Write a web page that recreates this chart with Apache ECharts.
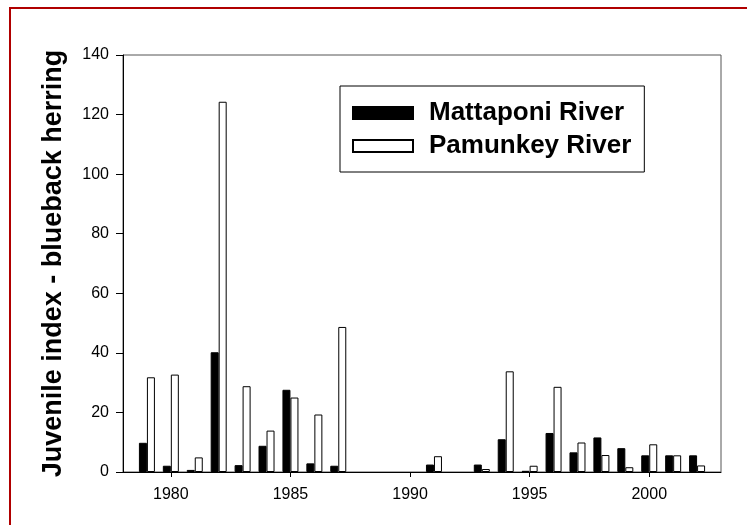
<!DOCTYPE html>
<html>
<head>
<meta charset="utf-8">
<script src="https://cdn.jsdelivr.net/npm/echarts@6/dist/echarts.min.js"></script>
<style>
  html, body { margin: 0; padding: 0; background: #fff; }
  #chart { width: 747px; height: 525px; }
</style>
</head>
<body>
<div id="chart"></div>
<script>
// years on the axis, 1978 and 2003 are just the axis ends
var years = ['1978', '1979', '1980', '1981', '1982', '1983', '1984', '1985', '1986', '1987',
             '1988', '1989', '1990', '1991', '1992', '1993', '1994', '1995', '1996', '1997',
             '1998', '1999', '2000', '2001', '2002', '2003'];
var mattaponi = [null, 9.8, 2.1, 0.7, 40.2, 2.3, 8.8, 27.6, 2.9, 2.1,
                 null, null, null, 2.5, null, 2.5, 11.0, 0.4, 13.1, 6.6,
                 11.6, 8.0, 5.6, 5.6, 5.6, null];
var pamunkey = [null, 31.8, 32.7, 4.9, 124.3, 28.8, 13.9, 25.0, 19.3, 48.7,
                null, null, null, 5.3, null, 1.0, 33.8, 2.1, 28.6, 9.9,
                5.7, 1.6, 9.3, 5.6, 2.2, null];
var yTicks = [0, 20, 40, 60, 80, 100, 120, 140];

var font = "'Liberation Sans', Arial, sans-serif";
var chart = echarts.init(document.getElementById('chart'));

function fifth(idx) {
  return Number(years[idx]) % 5 === 0;
}

var option = {
  animation: false,
  backgroundColor: '#fff',
  graphic: [{
    type: 'rect',
    shape: { x: 10, y: 8, width: 900, height: 700 },
    style: { fill: null, stroke: '#b00000', lineWidth: 2 },
    silent: true
  }],
  grid: {
    left: 123, right: 26, top: 55, bottom: 53,
    containLabel: false,
    outerBoundsMode: 'none',
    show: true,
    borderColor: '#555',
    borderWidth: 1
  },
  legend: {
    orient: 'vertical',
    left: 340, top: 86,
    padding: [13, 13, 12, 12],
    itemGap: 5,
    itemWidth: 60,
    itemHeight: 12,
    borderColor: '#000',
    borderWidth: 1,
    icon: 'rect',
    textStyle: {
      fontFamily: font, fontSize: 26, fontWeight: 'bold', color: '#000',
      lineHeight: 28, padding: [0, 0, 0, 11]
    },
    data: ['Mattaponi River', 'Pamunkey River']
  },
  xAxis: {
    type: 'category',
    data: years,
    boundaryGap: false,
    axisLine: { lineStyle: { color: '#000', width: 1 } },
    axisTick: { length: 5, interval: fifth, lineStyle: { color: '#000' } },
    axisLabel: {
      interval: fifth, margin: 15,
      fontFamily: font, fontSize: 16, color: '#000'
    },
    splitLine: { show: false }
  },
  yAxis: {
    type: 'value',
    min: yTicks[0], max: yTicks[yTicks.length - 1], interval: 20,
    name: 'Juvenile index - blueback herring',
    nameLocation: 'middle',
    nameRotate: 90,
    nameGap: 56,
    nameTextStyle: { fontFamily: font, fontSize: 27, fontWeight: 'bold', color: '#000' },
    axisLine: { show: true, lineStyle: { color: '#000', width: 1 } },
    axisTick: { show: true, length: 7, lineStyle: { color: '#000' } },
    axisLabel: { margin: 14, fontFamily: font, fontSize: 16, color: '#000' },
    splitLine: { show: false }
  },
  series: [
    {
      name: 'Mattaponi River',
      type: 'bar',
      data: mattaponi,
      barWidth: 8,
      barGap: '0%',
      itemStyle: { color: '#000', borderColor: '#000', borderWidth: 1 }
    },
    {
      name: 'Pamunkey River',
      type: 'bar',
      data: pamunkey,
      barWidth: 8,
      barGap: '0%',
      itemStyle: { color: '#fff', borderColor: '#000', borderWidth: 1 }
    }
  ]
};
chart.setOption(option);
</script>
</body>
</html>
